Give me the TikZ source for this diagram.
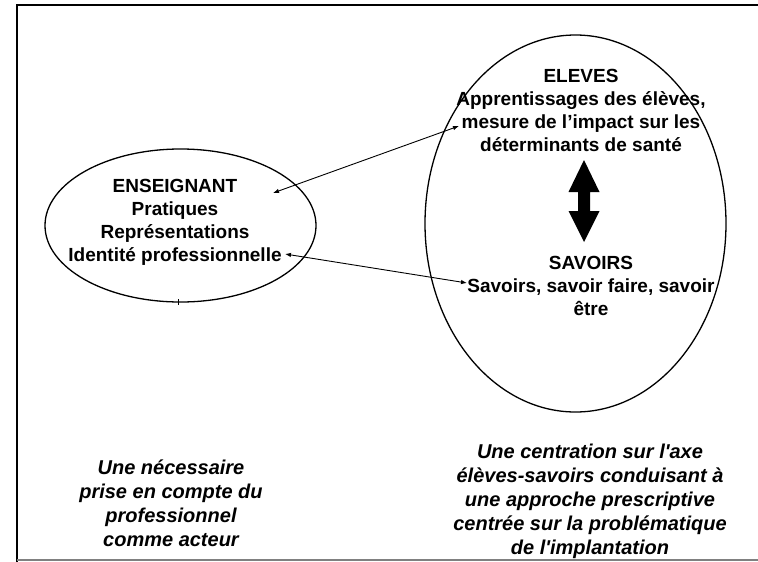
\documentclass[tikz,border=0pt]{standalone}
\usepackage{fontspec}
\setmainfont{Liberation Sans}
\usetikzlibrary{arrows.meta}
\begin{document}
\begin{tikzpicture}[x=1pt,y=-1pt,
  txt/.style={font=\bfseries\fontsize{19}{23}\selectfont, align=center, inner sep=0pt},
  itxt/.style={font=\bfseries\itshape\fontsize{20}{24}\selectfont, align=center, inner sep=0pt},
  thinarrow/.style={line width=0.9pt, {Latex[length=6pt,width=4.5pt]}-{Latex[length=6pt,width=4.5pt]}},
  oval/.style={draw, line width=1.3pt}]
\useasboundingbox (0,0) rectangle (758,562);
% frame
\draw[line width=2.2pt] (17,5) -- (758,5);
\draw[line width=2.2pt] (17,4) -- (17,562);
\draw[line width=1.5pt, gray] (17,560) -- (758,560);
% ellipses
\draw[oval] (180.5,225.5) ellipse [x radius=135.5, y radius=76.5];
\draw[line width=0.8pt] (178,299) -- (178,305);
\draw[oval] (575.5,223.5) ellipse [x radius=150.5, y radius=188.5];
% texts
\node[txt] (ens) at (175,222) {ENSEIGNANT\\Pratiques\\Représentations\\Identité professionnelle};
\node[txt] (elev) at (581,110) {ELEVES\\Apprentissages des élèves,\\mesure de l’impact sur les\\déterminants de santé};
\node[txt] (sav) at (591,286) {SAVOIRS\\Savoirs, savoir faire, savoir\\être};
\node[itxt] (left) at (171,503) {Une nécessaire\\prise en compte du\\professionnel\\comme acteur};
\node[itxt] (right) at (590,501) {Une centration sur l\textquotesingle axe\\élèves-savoirs conduisant à\\une approche prescriptive\\centrée sur la problématique\\de l\textquotesingle implantation};
% thin arrows
\coordinate (a1) at (273,193);
\coordinate (b1) at (459,126);
\coordinate (a2) at (285,254);
\coordinate (b2) at (467,283);
\draw[thinarrow] (a1) -- (b1);
\draw[thinarrow] (a2) -- (b2);
% big double arrow
\fill (584,160) -- (599.5,192) -- (590,192) -- (590,211) -- (599.5,211) -- (584,242) -- (568.5,211) -- (578,211) -- (578,192) -- (568.5,192) -- cycle;
\end{tikzpicture}
\end{document}
